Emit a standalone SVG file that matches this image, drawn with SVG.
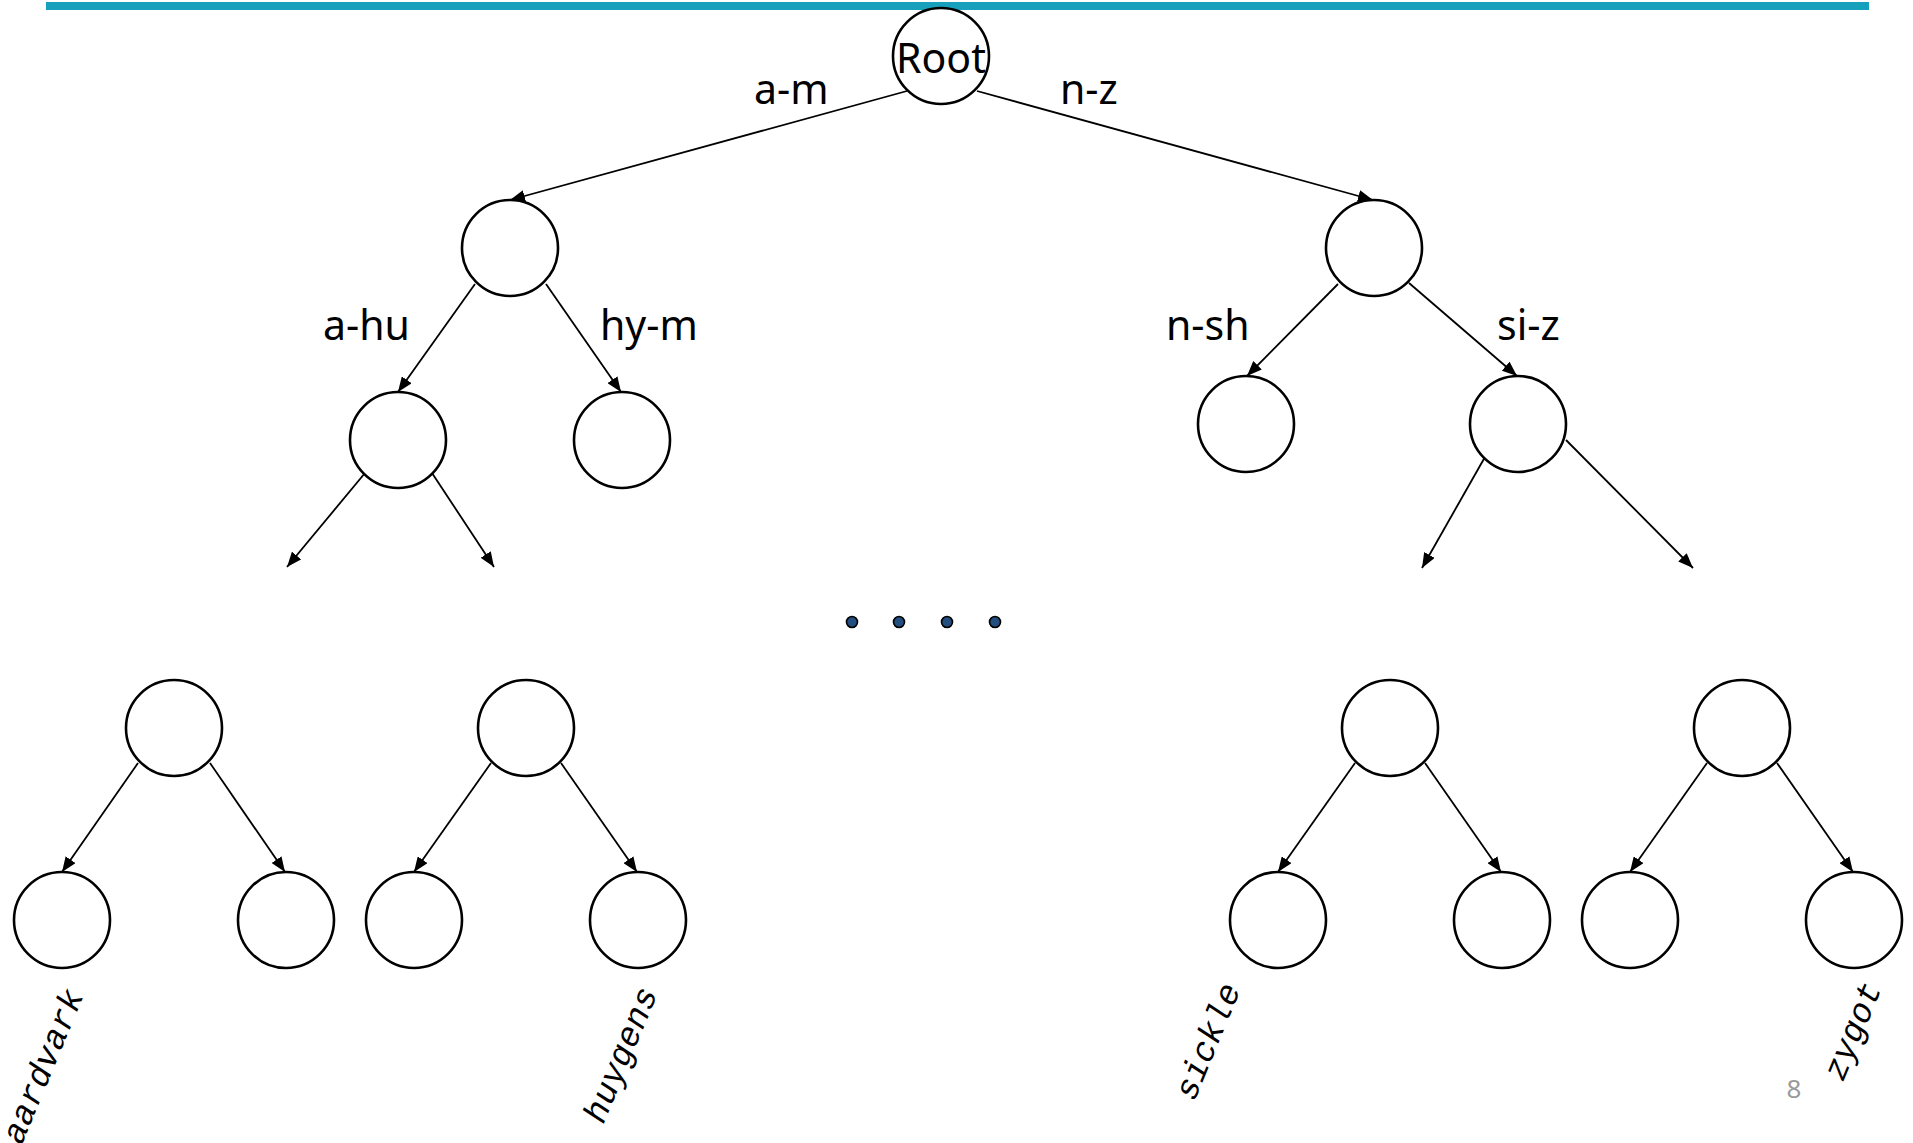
<svg xmlns="http://www.w3.org/2000/svg" width="1913" height="1143" viewBox="0 0 1913 1143">
<style>
.node{fill:#fff;stroke:#000;stroke-width:2.6}
.edge{stroke:#000;stroke-width:1.8;fill:none;marker-end:url(#arr)}
.lbl{font-family:"Noto Sans","DejaVu Sans",sans-serif;font-size:41px;fill:#000}
.word{font-family:"Liberation Mono","Courier New",monospace;font-style:italic;font-size:34px;fill:#000}
.dot{fill:#234e80;stroke:#000;stroke-width:1.6}
</style>
<defs>
<marker id="arr" markerUnits="userSpaceOnUse" markerWidth="16" markerHeight="12" refX="15" refY="6" orient="auto">
<path d="M0,0 L15,6 L0,12 z" fill="#000"/>
</marker>
</defs>
<rect x="46" y="2" width="1823" height="8" fill="#17a0bb"/>
<g id="connectors">
<line class="edge" x1="907" y1="91" x2="510" y2="200"/>
<line class="edge" x1="977" y1="91" x2="1373" y2="200"/>
<line class="edge" x1="475" y1="284" x2="398" y2="392"/>
<line class="edge" x1="546" y1="284" x2="621" y2="392"/>
<line class="edge" x1="1338" y1="284" x2="1247" y2="376"/>
<line class="edge" x1="1409" y1="283" x2="1517" y2="376"/>
<line class="edge" x1="365" y1="473" x2="287" y2="567"/>
<line class="edge" x1="432" y1="473" x2="494" y2="567"/>
<line class="edge" x1="1485" y1="457" x2="1422" y2="568"/>
<line class="edge" x1="1566" y1="440" x2="1693" y2="568"/>
<line class="edge" x1="138" y1="763" x2="62" y2="872"/>
<line class="edge" x1="210" y1="763" x2="285" y2="872"/>
<line class="edge" x1="491" y1="763" x2="414" y2="872"/>
<line class="edge" x1="561" y1="763" x2="637" y2="872"/>
<line class="edge" x1="1355" y1="763" x2="1278" y2="872"/>
<line class="edge" x1="1425" y1="763" x2="1501" y2="872"/>
<line class="edge" x1="1707" y1="763" x2="1630" y2="872"/>
<line class="edge" x1="1777" y1="763" x2="1853" y2="872"/>
</g>
<g id="edge-labels">
<text class="lbl" x="754" y="104">a-m</text>
<text class="lbl" x="1060" y="104">n-z</text>
<text class="lbl" x="323" y="340">a-hu</text>
<text class="lbl" x="600" y="340">hy-m</text>
<text class="lbl" x="1166" y="340">n-sh</text>
<text class="lbl" x="1497" y="340">si-z</text>
</g>
<g id="root"><circle class="node" cx="941" cy="56" r="48"/><text class="lbl" x="941" y="73" text-anchor="middle">Root</text></g>
<g id="n-am"><circle class="node" cx="510" cy="248" r="48"/></g>
<g id="n-nz"><circle class="node" cx="1374" cy="248" r="48"/></g>
<g id="n-ahu"><circle class="node" cx="398" cy="440" r="48"/></g>
<g id="n-hym"><circle class="node" cx="622" cy="440" r="48"/></g>
<g id="n-nsh"><circle class="node" cx="1246" cy="424" r="48"/></g>
<g id="n-siz"><circle class="node" cx="1518" cy="424" r="48"/></g>
<g id="p1"><circle class="node" cx="174" cy="728" r="48"/></g>
<g id="p2"><circle class="node" cx="526" cy="728" r="48"/></g>
<g id="p3"><circle class="node" cx="1390" cy="728" r="48"/></g>
<g id="p4"><circle class="node" cx="1742" cy="728" r="48"/></g>
<g id="leaf-aardvark"><circle class="node" cx="62" cy="920" r="48"/><text class="word" transform="translate(84,995) rotate(-67.5)" text-anchor="end">aardvark</text></g>
<g id="leaf2"><circle class="node" cx="286" cy="920" r="48"/></g>
<g id="leaf3"><circle class="node" cx="414" cy="920" r="48"/></g>
<g id="leaf-huygens"><circle class="node" cx="638" cy="920" r="48"/><text class="word" transform="translate(658,993) rotate(-67.5)" text-anchor="end">huygens</text></g>
<g id="leaf-sickle"><circle class="node" cx="1278" cy="920" r="48"/><text class="word" transform="translate(1241,989) rotate(-67.5)" text-anchor="end">sickle</text></g>
<g id="leaf6"><circle class="node" cx="1502" cy="920" r="48"/></g>
<g id="leaf7"><circle class="node" cx="1630" cy="920" r="48"/></g>
<g id="leaf-zygot"><circle class="node" cx="1854" cy="920" r="48"/><text class="word" transform="translate(1882,988) rotate(-67.5)" text-anchor="end">zygot</text></g>
<g id="ellipsis">
<circle class="dot" cx="852" cy="622" r="5.5"/>
<circle class="dot" cx="899" cy="622" r="5.5"/>
<circle class="dot" cx="947" cy="622" r="5.5"/>
<circle class="dot" cx="995" cy="622" r="5.5"/>
</g>
<text x="1794" y="1098" text-anchor="middle" font-family="Noto Sans, DejaVu Sans, sans-serif" font-size="26" fill="#999">8</text>
</svg>
